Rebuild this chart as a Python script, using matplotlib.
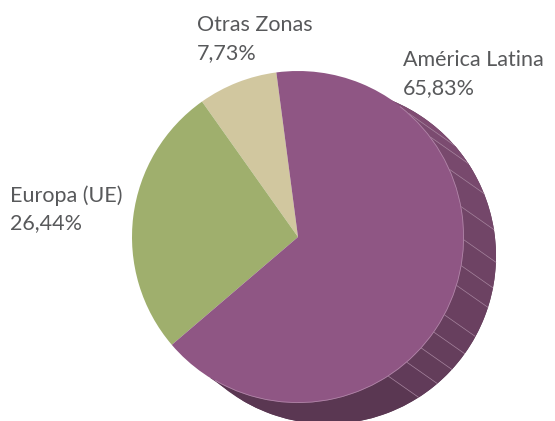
import numpy as np
import matplotlib
matplotlib.use("Agg")
import matplotlib.pyplot as plt
from matplotlib.patches import Wedge, Polygon

# data
labels = ["Otras Zonas", "Europa (UE)", "América Latina"]
values = [7.73, 26.44, 65.83]
pct_text = ["7,73%", "26,44%", "65,83%"]
colors = ["#d1c79f", "#9faf6d", "#8f5684"]

W, H = 555, 421
fig = plt.figure(figsize=(W / 100, H / 100), dpi=100)
ax = fig.add_axes([0, 0, 1, 1])

cx, cy, r = 298, H - 237, 166
start = 97.5

# shadow / extrusion of the purple slice
t1 = start + 360 * sum(values[:2]) / 100
t2 = start + 360
scx, scy, sr = 328, H - 256, 168
ax.add_patch(Wedge((scx, scy), sr, t1, t2, facecolor="#5b3853", edgecolor="none", zorder=1))
ax.add_patch(Wedge((scx, scy), sr, 30, 80, facecolor="#7f4c72", edgecolor="none", zorder=1.5))

stripes = [66, 48, 37, 24, 10.5, -1, -10, -17, -28, -35, -42, -49, -57, -122]
d = np.array([1.0, -0.7]) / np.hypot(1, 0.7)


def edge_pts(th):
    a = np.radians(th)
    p = np.array([cx + r * np.cos(a), cy + r * np.sin(a)])
    D = p - np.array([scx, scy])
    b = D @ d
    c = D @ D - sr ** 2
    t = -b + np.sqrt(max(b * b - c, 0))
    return p, p + t * d


top_c = np.array([0x80, 0x4e, 0x74]) / 255
bot_c = np.array([0x5a, 0x37, 0x52]) / 255
for i in range(len(stripes) - 1):
    a, b = stripes[i], stripes[i + 1]
    p1, q1 = edge_pts(a)
    p2, q2 = edge_pts(b)
    arc = [edge_pts(t)[1] for t in np.linspace(a, b, 12)]
    f = np.clip((60 - (a + b) / 2) / 140, 0, 1)
    col = top_c * (1 - f) + bot_c * f
    ax.add_patch(Polygon([p1] + arc + [p2], closed=True, facecolor=col,
                         edgecolor="none", zorder=2))
    if 0 < i:
        ax.plot([p1[0], q1[0]], [p1[1], q1[1]], color="#a886a0", lw=0.5, zorder=3)

ax.pie(values, colors=colors, startangle=start, counterclock=True,
       center=(cx, cy), radius=r, frame=True,
       wedgeprops=dict(linewidth=0, zorder=4))
ax.add_patch(Wedge((cx, cy), r, -120, 52, width=0.8, facecolor="#c9a8c2",
                   edgecolor="none", alpha=0.6, zorder=5))

txt = dict(fontsize=15.5, color="#58595b", family="Lato", ha="left", va="top",
           linespacing=1.5)
ax.text(197, H - 15, labels[0] + "\n" + pct_text[0], **txt)
ax.text(10, H - 185, labels[1] + "\n" + pct_text[1], **txt)
ax.text(403, H - 50, labels[2] + "\n" + pct_text[2], **txt)

ax.set_xlim(0, W)
ax.set_ylim(0, H)
ax.set_aspect("equal")
ax.axis("off")
fig.savefig("out.png", dpi=100)
